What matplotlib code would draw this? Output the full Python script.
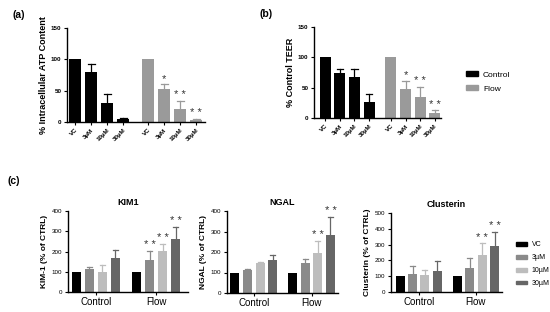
import matplotlib
matplotlib.use("Agg")
import matplotlib.pyplot as plt
import numpy as np
from matplotlib.patches import Patch

plt.rcParams['font.family'] = ['Liberation Sans', 'DejaVu Sans']

doses = ["VC", "3µM", "10µM", "30µM"]

# panel (a) ATP
atp_ctrl = [100, 79, 31, 5]
atp_ctrl_err = [0, 13, 13, 1]
atp_flow = [100, 53, 21, 3]
atp_flow_err = [0, 7, 13, 2]
atp_flow_sig = ["", "*", "* *", "* *"]

# panel (b) TEER
teer_ctrl = [100, 74, 68, 27]
teer_ctrl_err = [0, 7, 12, 13]
teer_flow = [100, 47, 35, 8]
teer_flow_err = [0, 14, 16, 5]
teer_flow_sig = ["", "*", "* *", "* *"]

# panel (c)
groups = ["Control", "Flow"]
kim_ctrl = [100, 115, 100, 170]
kim_ctrl_err = [0, 10, 33, 38]
kim_flow = [100, 160, 203, 260]
kim_flow_err = [0, 43, 34, 62]
kim_flow_sig = ["", "* *", "* *", "* *"]

ngal_ctrl = [100, 110, 148, 162]
ngal_ctrl_err = [0, 8, 4, 23]
ngal_flow = [100, 145, 197, 283]
ngal_flow_err = [0, 20, 56, 90]
ngal_flow_sig = ["", "", "* *", "* *"]

clu_ctrl = [100, 117, 110, 130]
clu_ctrl_err = [0, 45, 30, 68]
clu_flow = [100, 155, 232, 288]
clu_flow_err = [0, 62, 76, 92]
clu_flow_sig = ["", "", "* *", "* *"]

dose_colors = ["#000000", "#8a8a8a", "#bdbdbd", "#666666"]
ctrl_color = "#000000"
flow_color = "#9a9a9a"

W, H = 550, 312
fig = plt.figure(figsize=(W/100, H/100), dpi=100)

def ax_px(l, r, b, t):
    return fig.add_axes([l/W, (H-b)/H, (r-l)/W, (b-t)/H])

def style(ax):
    for s in ['top', 'right']:
        ax.spines[s].set_visible(False)
    for s in ['left', 'bottom']:
        ax.spines[s].set_linewidth(1.0)
    ax.tick_params(axis='both', width=0.8, length=2.5, labelsize=4.5, pad=1.5)

def upper_err(ax, x, y, e, color, capw):
    for xi, yi, ei in zip(x, y, e):
        if ei > 0:
            ax.plot([xi, xi], [yi, yi+ei], color=color, lw=0.9, zorder=1)
            ax.plot([xi-capw, xi+capw], [yi+ei, yi+ei], color=color, lw=0.9, zorder=1)

def stars(ax, x, y, e, sig, pad, color='#333333', fs=8):
    for xi, yi, ei, s in zip(x, y, e, sig):
        if s:
            ax.text(xi, yi+ei+pad, s, ha='center', va='bottom', fontsize=fs, color=color)

# ---- panel (a)
axa = ax_px(67, 205, 122, 28)
style(axa)
xa_c = np.arange(4)
xa_f = np.arange(4) + 4.56
axa.bar(xa_c, atp_ctrl, width=0.75, color=ctrl_color, zorder=2)
axa.bar(xa_f, atp_flow, width=0.75, color=flow_color, zorder=2)
upper_err(axa, xa_c, atp_ctrl, atp_ctrl_err, ctrl_color, 0.22)
upper_err(axa, xa_f, atp_flow, atp_flow_err, flow_color, 0.22)
stars(axa, xa_f, atp_flow, atp_flow_err, atp_flow_sig, 1.0)
axa.set_xlim(-0.5, 8.1)
axa.set_ylim(0, 150)
axa.set_yticks([0, 50, 100, 150])
axa.set_xticks(list(xa_c) + list(xa_f))
axa.set_xticklabels(doses + doses, rotation=45, ha='right', rotation_mode='anchor', fontweight='bold')
axa.set_ylabel("% Intracellular ATP Content", fontsize=6.5, fontweight='bold', labelpad=2)
for t in axa.get_yticklabels():
    t.set_fontweight('bold')

# ---- panel (b)
axb = ax_px(314, 441, 118, 27)
style(axb)
xb_c = np.arange(4)
xb_f = np.arange(4) + 4.48
axb.bar(xb_c, teer_ctrl, width=0.75, color=ctrl_color, zorder=2)
axb.bar(xb_f, teer_flow, width=0.75, color=flow_color, zorder=2)
upper_err(axb, xb_c, teer_ctrl, teer_ctrl_err, ctrl_color, 0.22)
upper_err(axb, xb_f, teer_flow, teer_flow_err, flow_color, 0.22)
stars(axb, xb_f, teer_flow, teer_flow_err, teer_flow_sig, 1.0)
axb.set_xlim(-0.76, 7.9)
axb.set_ylim(0, 150)
axb.set_yticks([0, 50, 100, 150])
axb.set_xticks(list(xb_c) + list(xb_f))
axb.set_xticklabels(doses + doses, rotation=45, ha='right', rotation_mode='anchor', fontweight='bold')
axb.set_ylabel("% Control TEER", fontsize=6.5, fontweight='bold', labelpad=2)
for t in axb.get_yticklabels():
    t.set_fontweight('bold')

fig.legend(handles=[Patch(color=ctrl_color), Patch(color=flow_color)],
           labels=["Control", "Flow"], loc='upper left',
           bbox_to_anchor=(458/W, 1-64/H), frameon=False, fontsize=6,
           handlelength=1.5, handleheight=0.5, labelspacing=0.8, handletextpad=0.6)

# ---- panel (c)
def panel_c(l, r, b, t, flowoff, xl, xr, ctrl, ctrl_e, flow, flow_e, sig, ymax, title, ylabel):
    ax = ax_px(l, r, b, t)
    style(ax)
    xc = np.arange(4)
    xf = np.arange(4) + flowoff
    for i in range(4):
        ax.bar([xc[i], xf[i]], [ctrl[i], flow[i]], width=0.72, color=dose_colors[i], zorder=2)
        upper_err(ax, [xc[i], xf[i]], [ctrl[i], flow[i]], [ctrl_e[i], flow_e[i]], dose_colors[i], 0.2)
    stars(ax, xf, flow, flow_e, sig, ymax*0.01)
    ax.set_xlim(xl, xr)
    ax.set_ylim(0, ymax)
    ax.set_yticks(np.arange(0, ymax+1, 100))
    ax.set_xticks([1.5, 1.5+flowoff])
    ax.set_xticklabels(groups, fontsize=7)
    ax.tick_params(axis='x', length=2.5, pad=1)
    ax.set_title(title, fontsize=6.5, fontweight='bold', pad=4)
    ax.set_ylabel(ylabel, fontsize=6, fontweight='bold', labelpad=3)
    return ax

panel_c(68, 188, 292, 211, 4.65, -0.65, 8.6, kim_ctrl, kim_ctrl_err, kim_flow, kim_flow_err,
        kim_flow_sig, 400, "KIM1", "KIM-1 (% of CTRL)")
panel_c(227, 338, 293, 211, 4.6, -0.63, 8.2, ngal_ctrl, ngal_ctrl_err, ngal_flow, ngal_flow_err,
        ngal_flow_sig, 400, "NGAL", "NGAL (% of CTRL)")
panel_c(391, 502, 292, 213, 4.6, -0.73, 8.2, clu_ctrl, clu_ctrl_err, clu_flow, clu_flow_err,
        clu_flow_sig, 500, "Clusterin", "Clusterin (% of CTRL)")

fig.legend(handles=[Patch(color=c) for c in dose_colors], labels=doses, loc='upper left',
           bbox_to_anchor=(510/W, 1-235/H), frameon=False, fontsize=5,
           handlelength=1.6, handleheight=0.5, labelspacing=0.85, handletextpad=0.6)

fig.text(12/W, 1-15/H, "(a)", fontsize=7.5, fontweight='bold', va='center')
fig.text(260/W, 1-14/H, "(b)", fontsize=7.5, fontweight='bold', va='center')
fig.text(8/W, 1-181/H, "(c)", fontsize=7.5, fontweight='bold', va='center')

fig.savefig("out.png", dpi=100)
